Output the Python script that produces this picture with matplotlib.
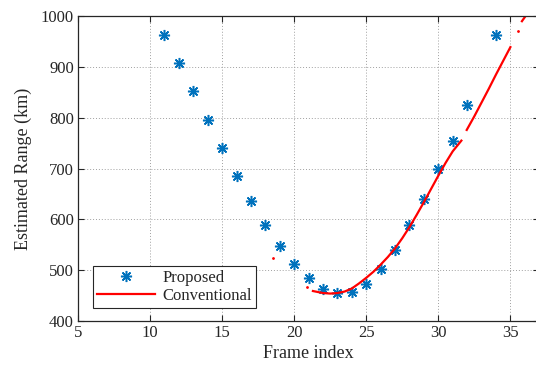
import matplotlib
matplotlib.use('Agg')
import matplotlib.pyplot as plt
import numpy as np

matplotlib.rcParams.update({'font.family': 'Liberation Serif', 'font.size': 12,
                            'text.color': '#262626', 'xtick.color': '#262626',
                            'ytick.color': '#262626', 'axes.labelcolor': '#262626'})

# Proposed estimates (one per frame)
prop_x = [11, 12, 13, 14, 15, 16, 17, 18, 19, 20, 21, 22, 23, 24, 25, 26, 27, 28, 29, 30, 31, 32, 34]
prop_y = [962, 907, 852, 796, 740, 686, 636, 589, 547, 512, 484, 463, 455, 457, 473, 502, 540, 589, 641, 699, 755, 826, 962]

# Conventional estimate (dense track, NaN = gap)
conv_x = [21.3, 22.0, 22.5, 23.0, 23.5, 24.0, 24.5, 25.0, 25.5, 26.0, 26.5, 27.0, 27.5, 28.0, 28.5,
          29.0, 29.5, 30.0, 30.5, 31.0, 31.6, np.nan, 31.97, 32.5, 33.0, 33.5, 34.0, 34.5, 35.0,
          np.nan, 35.8, 36.0]
conv_y = [459, 455, 454, 455, 458, 464, 474, 485, 497, 511, 526, 543, 563, 585, 609,
          634, 660, 686, 711, 734, 755, np.nan, 776, 803, 830, 857, 885, 912, 939,
          np.nan, 990, 998]
# stray conventional points
stray_x = [18.5, 20.9, 35.5]
stray_y = [524, 467, 970]

fig = plt.figure()
fig.set_size_inches(5.36, 3.75)
ax = fig.add_axes([0.1455, 0.144, 1.006 - 0.1455, 0.957 - 0.144])

ax.plot(prop_x, prop_y, linestyle='none', marker=(8, 2, 0), markersize=8,
        markeredgewidth=1.1, color='#0072BD', label='Proposed')
ax.plot(conv_x, conv_y, '-', color='red', lw=1.6, label='Conventional')
ax.plot(stray_x, stray_y, '.', color='red', markersize=2)

ax.set_xlim(5, 37)
ax.set_ylim(400, 1000)
ax.set_xticks([5, 10, 15, 20, 25, 30, 35])
ax.set_yticks([400, 500, 600, 700, 800, 900, 1000])
ax.grid(True, linestyle=(0, (1, 2)), color='#a0a0a0', lw=0.7)
ax.tick_params(direction='in', top=True, right=True, length=4, width=0.8, labelsize=12, pad=3)
for s in ax.spines.values():
    s.set_linewidth(0.9)
    s.set_color('#262626')
ax.set_xlabel('Frame index', fontsize=13, labelpad=3)
ax.set_ylabel('Estimated Range (km)', fontsize=13, labelpad=6)

leg = ax.legend(loc='lower left', bbox_to_anchor=(0.0325, 0.043), borderaxespad=0,
                fancybox=False, edgecolor='#262626', framealpha=1, fontsize=12,
                handlelength=3.5, handletextpad=0.4, borderpad=0.25, labelspacing=0.1)
leg.get_frame().set_linewidth(0.8)

plt.savefig('out.png', dpi=100)
